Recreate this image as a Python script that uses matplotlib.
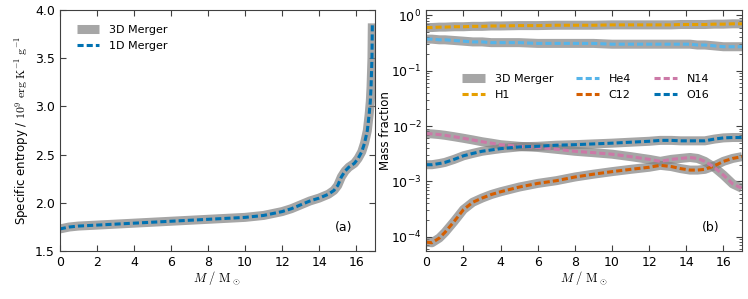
import numpy as np
import matplotlib
matplotlib.use("Agg")
import matplotlib.pyplot as plt
from matplotlib.ticker import LogLocator, NullFormatter

plt.rcParams['font.family'] = 'DejaVu Sans'
plt.rcParams['font.size'] = 9
plt.rcParams['axes.unicode_minus'] = False

# Panel (a): specific entropy profile
m_s = [0, 0.5, 1, 2, 3, 4, 5, 6, 7, 8, 9, 10, 11, 11.5, 12, 12.5, 13, 13.5,
       14, 14.5, 14.8, 15.0, 15.2, 15.4, 15.6, 15.9, 16.1, 16.3, 16.45, 16.6,
       16.7, 16.76, 16.8, 16.85, 16.87]
s_3d = [1.73, 1.75, 1.76, 1.77, 1.78, 1.79, 1.80, 1.81, 1.82, 1.83, 1.84, 1.85,
        1.87, 1.89, 1.91, 1.94, 1.98, 2.02, 2.05, 2.09, 2.13, 2.18, 2.27, 2.33,
        2.37, 2.41, 2.46, 2.53, 2.62, 2.75, 2.92, 3.05, 3.20, 3.50, 3.86]
s_1d = [1.73, 1.75, 1.76, 1.77, 1.78, 1.79, 1.80, 1.81, 1.82, 1.83, 1.84, 1.85,
        1.87, 1.89, 1.91, 1.94, 1.98, 2.02, 2.05, 2.09, 2.13, 2.18, 2.27, 2.33,
        2.37, 2.41, 2.46, 2.53, 2.62, 2.75, 2.92, 3.05, 3.20, 3.50, 3.84]

# Panel (b): mass fractions
m_x = [0, 0.3, 0.7, 1, 1.5, 2, 2.5, 3, 3.5, 4, 5, 6, 7, 8, 9, 10, 11, 12,
       12.6, 13.2, 13.7, 14.2, 14.6, 15, 15.5, 16, 16.5, 17]
h1 = [0.60, 0.60, 0.61, 0.61, 0.62, 0.62, 0.63, 0.63, 0.64, 0.64, 0.65, 0.65,
      0.66, 0.66, 0.66, 0.67, 0.67, 0.67, 0.67, 0.67, 0.68, 0.68, 0.68, 0.68,
      0.69, 0.69, 0.70, 0.70]
he4 = [0.37, 0.37, 0.36, 0.36, 0.35, 0.34, 0.33, 0.33, 0.32, 0.32, 0.32, 0.31,
       0.31, 0.31, 0.31, 0.30, 0.30, 0.30, 0.30, 0.30, 0.30, 0.30, 0.29, 0.29,
       0.28, 0.27, 0.27, 0.27]
c12 = [8.0e-5, 7.8e-5, 9.5e-5, 1.2e-4, 1.9e-4, 3.1e-4, 4.2e-4, 5.0e-4, 5.8e-4,
       6.5e-4, 7.9e-4, 9.2e-4, 1.03e-3, 1.2e-3, 1.35e-3, 1.5e-3, 1.65e-3,
       1.8e-3, 1.95e-3, 1.85e-3, 1.7e-3, 1.6e-3, 1.6e-3, 1.65e-3, 1.9e-3,
       2.3e-3, 2.6e-3, 2.8e-3]
n14 = [7.3e-3, 7.2e-3, 7.0e-3, 6.8e-3, 6.4e-3, 6.0e-3, 5.6e-3, 5.2e-3, 4.9e-3,
       4.6e-3, 4.3e-3, 4.1e-3, 3.8e-3, 3.5e-3, 3.3e-3, 3.1e-3, 2.8e-3, 2.5e-3,
       2.3e-3, 2.5e-3, 2.6e-3, 2.7e-3, 2.6e-3, 2.3e-3, 1.8e-3, 1.3e-3, 9.0e-4,
       7.5e-4]
o16 = [2.0e-3, 2.0e-3, 2.1e-3, 2.2e-3, 2.5e-3, 2.9e-3, 3.2e-3, 3.5e-3, 3.7e-3,
       3.9e-3, 4.2e-3, 4.3e-3, 4.5e-3, 4.6e-3, 4.75e-3, 4.9e-3, 5.1e-3, 5.3e-3,
       5.5e-3, 5.5e-3, 5.4e-3, 5.4e-3, 5.4e-3, 5.4e-3, 5.8e-3, 6.1e-3, 6.2e-3,
       6.2e-3]
species = ['H1', 'He4', 'C12', 'N14', 'O16']
fractions = [h1, he4, c12, n14, o16]
colors = ['#E69F00', '#56B4E9', '#D55E00', '#CC79A7', '#0072B2']

grey_kw = dict(color='grey', alpha=0.7, lw=6.5, solid_capstyle='butt')
dash_kw = dict(lw=2.2, ls=(0, (2, 1)))
leg_kw = dict(frameon=False, fontsize=8, handlelength=2.0, handletextpad=0.9,
              labelspacing=0.55, borderaxespad=0, loc='upper left')

fig = plt.figure(figsize=(7.48, 2.99), dpi=100)
ax1 = fig.add_axes([0.080, 0.160, 0.421, 0.807])
ax2 = fig.add_axes([0.570, 0.160, 0.422, 0.807])

for ax in (ax1, ax2):
    for sp in ax.spines.values():
        sp.set_color('0.25')
    ax.tick_params(which='both', direction='in', top=True, right=True, color='0.25')
    ax.tick_params(which='major', length=4)
    ax.tick_params(which='minor', length=2)
    ax.set_xlim(0, 17)
    ax.set_xticks(np.arange(0, 17, 2))
    ax.set_xlabel(r'$M\ /\ \mathrm{M}_\odot$', math_fontfamily='cm',
                  fontsize=9, labelpad=0)

# (a)
ax1.plot(m_s, s_3d, label='3D Merger', **grey_kw)
ax1.plot(m_s, s_1d, color='#0072B2', label='1D Merger', **dash_kw)
ax1.set_ylim(1.5, 4.0)
ax1.set_yticks(np.arange(1.5, 4.01, 0.5))
ax1.set_ylabel(r'Specific entropy / $10^9\ \mathrm{erg\ K^{-1}\ g^{-1}}$',
               math_fontfamily='cm', fontsize=8.5)
ax1.yaxis.set_label_coords(-0.088, 0.5)
ax1.text(0.9, 0.1, '(a)', transform=ax1.transAxes, ha='center', va='center')
ax1.legend(bbox_to_anchor=(0.04, 0.955), **leg_kw)

# (b)
for i, (name, frac, col) in enumerate(zip(species, fractions, colors)):
    ax2.plot(m_x, frac, label='3D Merger' if i == 0 else None, **grey_kw)
for name, frac, col in zip(species, fractions, colors):
    ax2.plot(m_x, frac, color=col, label=name, **dash_kw)
ax2.set_yscale('log')
ax2.set_ylim(5.5e-5, 1.25)
ax2.yaxis.set_minor_locator(LogLocator(base=10, subs=np.arange(2, 10), numticks=20))
ax2.yaxis.set_minor_formatter(NullFormatter())
ax2.set_ylabel('Mass fraction', fontsize=8.5)
ax2.yaxis.set_label_coords(-0.11, 0.5)
ax2.text(0.9, 0.1, '(b)', transform=ax2.transAxes, ha='center', va='center')

handles, labels = ax2.get_legend_handles_labels()
order = ['3D Merger', 'H1', 'He4', 'C12', 'N14', 'O16']
hl = dict(zip(labels, handles))
ax2.legend([hl[k] for k in order], order, ncol=3, columnspacing=2.1,
           bbox_to_anchor=(0.10, 0.752), **leg_kw)

fig.savefig('out.png', dpi=100)
